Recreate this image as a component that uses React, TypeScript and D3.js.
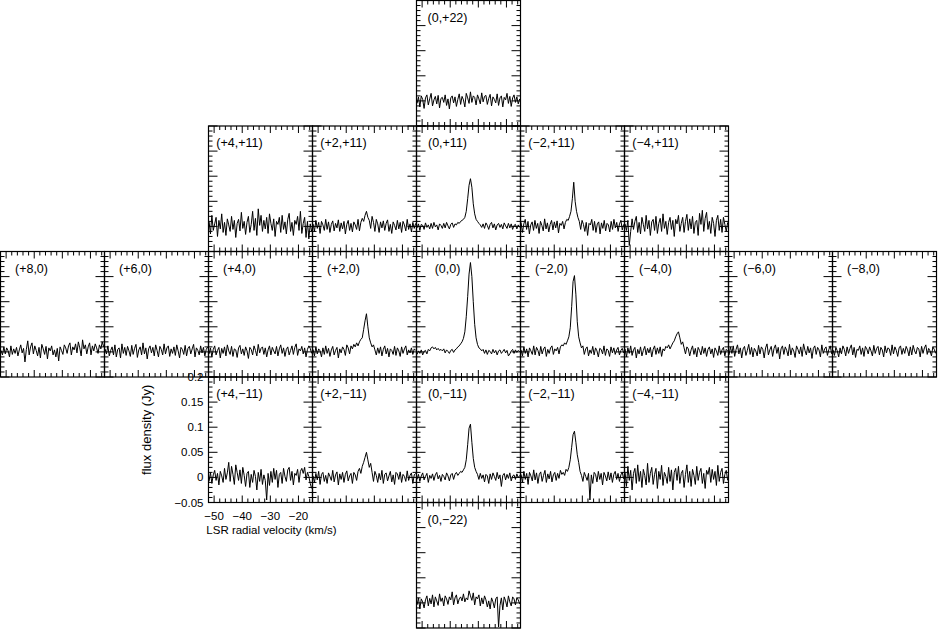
import React from 'react';
import * as d3 from 'd3';

// channel velocity grid (km/s) and axis setup
const V_START = -51.8;
const V_END = -15.3;
const X_DOMAIN = [-52, -15];
const Y_DOMAIN = [-0.05, 0.2];
const X_MAJOR = [-50, -40, -30, -20];
const X_LABELS = ['\u221250', '\u221240', '\u221230', '\u221220'];
const Y_MAJOR = [-0.05, 0, 0.05, 0.1, 0.15, 0.2];
const Y_LABELS = ['\u22120.05', '0', '0.05', '0.1', '0.15', '0.2'];

// spectra, flux density in mJy, one value per channel
const s_0_p22 = [-5, 8, -12, 10, 3, -15, 6, 12, -8, 4, 15, -10, 2, 9, -6, 11, -14, 5, 7, -3, 12, -9, 4, -16, 6, 10, -4, 8, -11, 3, 14, -7, 9, 2, -12, 15, 6, -5, 18, -3, 10, 7, -8, 12, 4, -6, 16, -2, 9, 11, -7, 5, 13, -10, 8, 3, -4, 14, -9, 6, 10, -12, 7, 2, 15, -5, 9, -11, 6, 12, -3, 8, -6, 4];
const s_p4_p11 = [10, -15, 22, -8, 5, 18, -20, 12, -5, 25, -12, 8, -18, 15, 3, -10, 20, -6, 12, -22, 6, 14, -9, 28, -4, 10, -16, 8, 20, -12, 4, 30, -8, 16, -18, 35, 2, 22, -10, 12, -5, 18, -14, 25, 6, -8, 15, -20, 10, 4, 18, -12, 22, -6, 9, -15, 14, 26, -10, 8, -18, 12, 4, 20, -8, 30, -14, 6, 18, -22, 10, -25, 5, -10];
const s_p2_p11 = [5, -10, 12, -4, 8, -14, 10, 3, -8, 14, -6, 9, -12, 4, 11, -9, 6, -3, 13, -10, 7, -5, 10, -15, 4, 12, -8, 6, -11, 9, 3, -6, 14, -9, 8, 16, 10, 22, 30, 18, 12, -4, 20, 8, -10, 14, 5, -12, 9, -3, 11, -8, 6, 13, -10, 4, -14, 9, 2, -7, 12, -5, 8, -12, 10, 3, -9, 14, -6, 5, -11, 8, -4, 6];
const s_0_p11 = [-3, 5, -8, 4, 2, -6, 7, -2, 3, -5, 6, -4, 8, -1, 3, -7, 5, 2, -4, 6, -3, 8, 1, -5, 4, 7, -2, 5, 3, 8, 6, 10, 12, 14, 18, 30, 55, 82, 95, 78, 45, 25, 14, 10, 6, 3, -2, 5, -4, 7, 2, -6, 4, 8, -3, 5, -7, 3, 6, -2, 4, -5, 7, 1, -4, 6, -3, 5, -6, 2, 4, -5, 3, -2];
const s_m2_p11 = [8, -12, 5, 14, -6, 10, -15, 3, 9, -8, 12, -4, 6, -14, 10, 2, -9, 15, -5, 7, -11, 4, 12, -7, 9, -3, 11, -13, 6, 2, 10, -5, 8, 14, 12, 20, 30, 55, 88, 50, 30, 18, 10, -6, 12, 4, -10, 8, -18, 6, 3, 14, -8, 10, -12, 5, 9, -15, 7, -4, 12, -9, 6, 3, -11, 10, -6, 14, -3, 8, -10, 5, 12, -7, 4];
const s_m4_p11 = [5, -8, 12, -38, -10, 15, -6, 10, 20, -12, 8, -15, 18, 4, -10, 22, -5, 12, -18, 9, 14, -8, 20, -14, 6, 16, -10, 25, -4, 10, -16, 8, 18, -6, 12, -20, 14, 5, 22, -10, 6, 18, -12, 10, 24, -8, 15, -5, 20, -14, 8, 12, -18, 26, 4, 32, -10, 16, 28, -6, 10, -14, 18, 6, -20, 12, 22, -8, 14, -12, 18, 4, -10, 8];
const s_p8_0 = [3, -6, 10, -4, 8, 2, -10, 12, -5, 6, -3, 9, -8, 4, 14, -2, 7, -20, 5, 22, -6, 10, 18, -4, 12, 3, -8, 9, -12, 15, 6, -5, 11, -14, 8, 2, 12, -6, 4, -10, 7, -18, 10, 3, -5, 14, 8, -3, 12, 18, -6, 10, 4, 16, -2, 20, 8, -8, 24, 6, 14, -4, 10, 18, -6, 12, 2, 16, 8, -3, 14, 6, 20, 10];
const s_p6_0 = [6, -4, 12, -8, 3, 10, -6, 14, -10, 5, 8, -12, 16, -3, 9, -7, 11, 2, -9, 13, -5, 7, 15, -11, 4, 10, -6, 18, -4, 8, -14, 6, 12, -2, 9, -8, 14, 3, -10, 11, 5, -6, 16, -4, 8, 12, -9, 6, -3, 10, -7, 14, 2, -12, 9, 5, -5, 13, -8, 7, 11, -4, 6, 15, -10, 8, 3, -6, 12, -2, 9, -8, 5, 10];
const s_p4_0 = [-4, 8, -10, 5, 12, -6, 3, 9, -12, 7, -3, 10, -8, 14, 2, -5, 11, -9, 6, 4, -11, 8, 13, -4, 6, -7, 10, 2, -13, 9, 5, -6, 12, 3, -8, 15, -2, 7, 10, -5, 8, -10, 4, 12, -6, 9, 2, -4, 11, -8, 6, 14, -3, 8, -9, 5, 10, -6, 3, 12, -5, 9, 16, -7, 6, 2, 11, -4, 8, -10, 5, 12, 7, -3];
const s_p2_0 = [5, -8, 10, -4, 6, 2, -10, 8, -5, 12, -3, 7, -9, 4, 11, -6, 3, 9, -12, 6, -2, 10, 5, -7, 14, 8, -4, 12, 6, 15, 10, 18, 12, 20, 25, 28, 45, 62, 76, 50, 28, 18, 10, 14, 4, -6, 8, -3, 10, -8, 5, 12, -4, 7, -10, 6, 3, -5, 11, -7, 8, 2, -9, 10, -3, 6, 12, -6, 4, -2, 8, -5, 6, 3];
const s_0_0 = [-5, 2, -3, 4, -6, 1, 3, -4, 5, 2, 8, 10, 6, 9, 4, 7, 3, 5, 2, 6, -2, 4, 1, -3, 3, 5, -1, 4, 6, 10, 12, 16, 20, 27, 40, 70, 110, 155, 178, 150, 100, 55, 28, 15, 8, 6, 2, 5, -3, 4, -5, 3, 1, -4, 5, -2, 3, -6, 2, 4, -3, 1, 5, -2, 3, -8, -4, 2, 5, -3, 4, -1, 3, 0];
const s_m2_0 = [4, -8, 10, -3, 6, -10, 8, 2, -5, 12, -6, 9, 3, -8, 11, -4, 6, 10, -9, 5, -3, 8, 12, -5, 6, 2, 9, -4, 10, 14, 12, 18, 15, 22, 30, 48, 90, 140, 152, 115, 60, 30, 18, 8, 12, -5, 6, 10, -8, 4, -3, 11, -6, 8, 2, -10, 7, 5, -4, 12, -7, 6, 3, -9, 10, -2, 8, -5, 4, 9, -6, 3, 7, -2];
const s_m4_0 = [6, -10, 8, -3, 12, -7, 4, 9, -12, 5, -4, 10, -8, 3, 11, -6, 7, -2, 9, -10, 5, 12, -5, 8, -3, 10, -9, 6, 2, 11, 8, 14, 6, 12, 18, 22, 30, 36, 40, 28, 15, 20, 8, -4, 10, 6, -8, 4, 12, -5, 7, -10, 9, 3, -6, 11, -3, 8, -9, 5, 10, -4, 6, -11, 8, 2, -7, 12, -5, 4, 9, -8, 5, 2];
const s_m6_0 = [-6, 10, -3, 12, -9, 5, 14, -4, 8, -12, 6, 11, -7, 3, 15, -5, 9, -10, 7, 2, -8, 13, -4, 10, 5, -12, 8, 16, -6, 4, 11, -9, 7, 14, -3, 9, -14, 6, 12, -5, 10, 3, -8, 15, -6, 8, 2, -11, 12, 5, -4, 10, -9, 16, 3, -6, 11, -2, 8, -13, 7, 12, -5, 9, 4, -10, 14, -3, 6, 10, -7, 5, 12, -4];
const s_m8_0 = [4, -7, 9, 2, -10, 8, -4, 12, 5, -8, 10, -3, 7, 14, -6, 9, -11, 5, 3, 12, -5, 8, -9, 11, 6, -4, 10, 2, -8, 13, -3, 7, 11, -6, 9, 4, -10, 12, -2, 8, 6, -7, 14, -4, 10, 3, -9, 8, 12, -5, 7, -3, 11, 4, -8, 10, -6, 13, 2, -4, 9, 6, -10, 11, -3, 8, 14, -5, 7, 2, -8, 10, 5, -3];
const s_p4_m11 = [-8, 10, -12, 5, 14, -6, 8, -15, 12, 3, -10, 18, -4, 9, 30, -8, 22, 6, -14, 25, 10, -6, 15, -12, 20, 4, -18, 8, 12, -20, 6, -10, 14, 2, -25, 10, -8, 16, -14, 5, -6, -45, 8, -16, 12, -10, 18, -4, 14, -20, 6, 10, -12, 18, 2, -8, 15, 20, -6, 12, -15, 8, 4, 16, -10, 12, 18, 8, 20, -5, 10, 2, -12, -22];
const s_p2_m11 = [3, -10, 8, -5, 12, -14, 6, 10, -8, 4, -12, 9, 2, -6, 14, -9, 5, 11, -15, 7, -4, 10, -10, 6, 13, -7, 3, 8, -12, 10, 5, -6, 12, 18, 8, 22, 30, 40, 50, 35, 20, 28, 10, -8, 12, 4, -10, 8, -5, 14, -12, 6, 9, -7, 3, 12, -9, 5, -14, 10, 7, -4, 11, -10, 6, 2, -8, 13, -6, 4, 9, -12, 5, 8];
const s_0_m11 = [-4, 6, -8, 3, 9, -5, 2, 8, -10, 4, -2, 7, -6, 5, 10, -3, 4, -8, 6, 2, -5, 9, 3, -7, 5, 8, -4, 6, 10, 4, 8, 12, 10, 15, 20, 35, 65, 98, 106, 70, 38, 20, 12, 6, -4, 8, -2, 5, -9, 6, 3, -12, 7, -4, 9, 2, -6, 10, -3, 5, -18, 4, 8, -5, 6, -2, 9, -7, 3, 5, -4, 7, -1, 4];
const s_m2_m11 = [6, -10, 12, -4, 8, -14, 10, 3, -7, 15, -5, 9, -12, 6, 11, -8, 4, 14, -10, 7, -3, 12, -9, 5, 10, -6, 8, -2, 14, 6, 10, 4, 16, 12, 20, 35, 60, 85, 92, 70, 45, 30, 12, 4, -8, 10, 2, -6, 8, -45, 5, -12, 10, 6, -9, 12, -4, 8, -15, 10, 3, -7, 11, -5, 9, -10, 6, 12, -4, 8, -8, 5, 10, -3];
const s_m4_m11 = [10, -18, 22, -6, 14, -25, 8, 18, -12, 25, -8, 12, -20, 16, 4, -15, 28, -10, 8, 20, -14, 6, 18, -22, 12, -4, 24, -16, 10, 2, -12, 20, -8, 15, -25, 10, 18, -6, 22, -12, 8, 14, -20, 6, 25, -10, 12, -18, 16, 4, -14, 22, -6, 10, 18, -12, 8, -22, 14, 6, 20, -10, 16, -4, 12, -16, 24, -8, 10, 18, -12, 6, 14, -6];
const s_0_m22 = [-4, 10, -12, 8, 2, -10, 6, 14, -6, 9, -2, 16, -8, 12, 4, -5, 18, 3, 10, -6, 14, 8, -3, 12, 6, 22, -4, 10, 16, -2, 8, 12, 4, 18, 2, 10, 6, 24, 14, 5, 20, -4, 12, 8, 16, -6, 10, -2, 14, 6, -8, 4, -12, 10, 2, -10, 8, 12, -48, -5, 10, -14, 12, 4, -8, 14, 2, -6, 12, 8, -4, 10, 6, -2];

// panel offsets (arcsec) and grid placement
const PANEL_LABELS = ['(0,+22)', '(+4,+11)', '(+2,+11)', '(0,+11)', '(\u22122,+11)', '(\u22124,+11)', '(+8,0)', '(+6,0)', '(+4,0)', '(+2,0)', '(0,0)', '(\u22122,0)', '(\u22124,0)', '(\u22126,0)', '(\u22128,0)', '(+4,\u221211)', '(+2,\u221211)', '(0,\u221211)', '(\u22122,\u221211)', '(\u22124,\u221211)', '(0,\u221222)'];
const PANEL_COLS = [4, 2, 3, 4, 5, 6, 0, 1, 2, 3, 4, 5, 6, 7, 8, 2, 3, 4, 5, 6, 4];
const PANEL_ROWS = [0, 1, 1, 1, 1, 1, 2, 2, 2, 2, 2, 2, 2, 2, 2, 3, 3, 3, 3, 3, 4];
const PANEL_DATA = [s_0_p22, s_p4_p11, s_p2_p11, s_0_p11, s_m2_p11, s_m4_p11, s_p8_0, s_p6_0, s_p4_0, s_p2_0, s_0_0, s_m2_0, s_m4_0, s_m6_0, s_m8_0, s_p4_m11, s_p2_m11, s_0_m11, s_m2_m11, s_m4_m11, s_0_m22];
const AXIS_PANEL = 15; // (+4,-11) carries the axis labels

const PW = 104;
const PH = 125.5;
const FONT = '"Liberation Sans", Arial, Helvetica, sans-serif';

function Panel({ idx }: { idx: number }) {
  const x0 = PANEL_COLS[idx] * PW + 0.5;
  const y0 = PANEL_ROWS[idx] * PH + 0.5;
  const x = d3.scaleLinear().domain(X_DOMAIN).range([x0, x0 + PW]);
  const y = d3.scaleLinear().domain(Y_DOMAIN).range([y0 + PH, y0]);
  const data = PANEL_DATA[idx];
  const n = data.length;
  const vel = (i: number) => V_START + (i * (V_END - V_START)) / (n - 1);
  const line = d3
    .line<number>()
    .x((_, i) => x(vel(i)))
    .y((d) => y(d / 1000));
  const xMinor = d3.range(-50, -15, 2).filter((v) => v % 10 !== 0);
  const yMinor = d3.range(-4, 20, 1).map((v) => v / 100).filter((v) => Math.round(v * 100) % 5 !== 0);
  const XMAJ = 7, YMAJ = 9, MIN = 4;
  const ticks: JSX.Element[] = [];
  X_MAJOR.forEach((v, k) => {
    ticks.push(<line key={'xb' + k} x1={x(v)} x2={x(v)} y1={y0 + PH} y2={y0 + PH - XMAJ} />);
    ticks.push(<line key={'xt' + k} x1={x(v)} x2={x(v)} y1={y0} y2={y0 + XMAJ} />);
  });
  xMinor.forEach((v, k) => {
    ticks.push(<line key={'xbm' + k} x1={x(v)} x2={x(v)} y1={y0 + PH} y2={y0 + PH - MIN} />);
    ticks.push(<line key={'xtm' + k} x1={x(v)} x2={x(v)} y1={y0} y2={y0 + MIN} />);
  });
  Y_MAJOR.forEach((v, k) => {
    ticks.push(<line key={'yl' + k} x1={x0} x2={x0 + YMAJ} y1={y(v)} y2={y(v)} />);
    ticks.push(<line key={'yr' + k} x1={x0 + PW} x2={x0 + PW - YMAJ} y1={y(v)} y2={y(v)} />);
  });
  yMinor.forEach((v, k) => {
    ticks.push(<line key={'ylm' + k} x1={x0} x2={x0 + MIN} y1={y(v)} y2={y(v)} />);
    ticks.push(<line key={'yrm' + k} x1={x0 + PW} x2={x0 + PW - MIN} y1={y(v)} y2={y(v)} />);
  });
  const clipId = 'clip' + idx;
  return (
    <g>
      <clipPath id={clipId}>
        <rect x={x0} y={y0} width={PW} height={PH} />
      </clipPath>
      <path d={line(data) || ''} fill="none" stroke="#000" strokeWidth={1} clipPath={`url(#${clipId})`} />
      <g stroke="#000" strokeWidth={1}>{ticks}</g>
      <rect x={x0} y={y0} width={PW} height={PH} fill="none" stroke="#000" strokeWidth={1.2} />
      <text x={x0 + 31} y={y0 + 21} textAnchor="middle" fontSize={12.5} fontFamily={FONT} fill="#000">
        {PANEL_LABELS[idx]}
      </text>
      {idx === AXIS_PANEL && (
        <g fontFamily={FONT} fill="#000">
          {Y_MAJOR.map((v, k) => (
            <text key={'yt' + k} x={x0 - 5} y={y(v) + 4} textAnchor="end" fontSize={11.5}>
              {Y_LABELS[k]}
            </text>
          ))}
          {X_MAJOR.map((v, k) => (
            <text key={'xtl' + k} x={x(v)} y={y0 + PH + 17} textAnchor="middle" fontSize={11.5}>
              {X_LABELS[k]}
            </text>
          ))}
          <text x={x0 + 63} y={y0 + PH + 31} textAnchor="middle" fontSize={11.5}>
            LSR radial velocity (km/s)
          </text>
          <text transform={`translate(${x0 - 58},${y0 + PH / 2 - 10}) rotate(-90)`} textAnchor="middle" fontSize={13}>
            flux density (Jy)
          </text>
        </g>
      )}
    </g>
  );
}

export default function App() {
  return (
    <svg width={939} height={630} style={{ position: 'absolute', left: 0, top: 0, background: '#fff' }}>
      <rect width={939} height={630} fill="#fff" />
      {PANEL_DATA.map((_, i) => (
        <Panel key={i} idx={i} />
      ))}
    </svg>
  );
}
